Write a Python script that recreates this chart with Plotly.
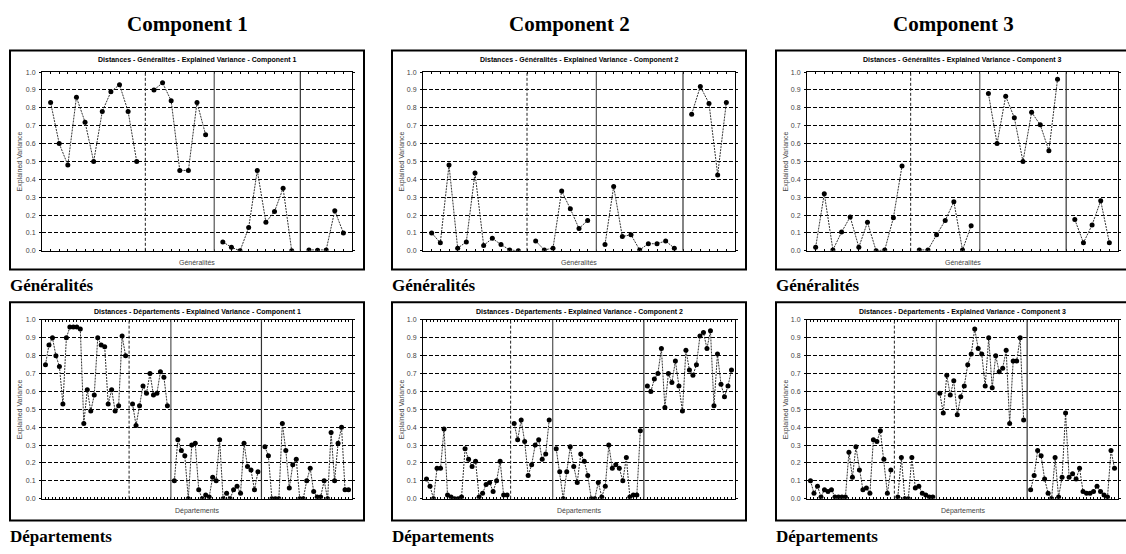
import plotly.graph_objects as go

W, H = 1126, 554

# ---- Explained variance per component, split into the four variable groups ----
gen_c1 = [
    [0.83, 0.60, 0.48, 0.86, 0.72, 0.50, 0.78, 0.89, 0.93, 0.78, 0.50],
    [0.90, 0.94, 0.84, 0.45, 0.45, 0.83, 0.65],
    [0.05, 0.02, 0.00, 0.13, 0.45, 0.16, 0.22, 0.35, 0.00],
    [0.005, 0.003, 0.005, 0.225, 0.10],
]
gen_c2 = [
    [0.10, 0.045, 0.48, 0.015, 0.05, 0.435, 0.03, 0.07, 0.035, 0.005, 0.00],
    [0.055, 0.005, 0.015, 0.335, 0.235, 0.125, 0.17],
    [0.035, 0.36, 0.08, 0.09, 0.005, 0.04, 0.04, 0.055, 0.015],
    [0.765, 0.92, 0.825, 0.425, 0.83],
]
gen_c3 = [
    [0.02, 0.32, 0.005, 0.105, 0.19, 0.02, 0.16, 0.00, 0.005, 0.185, 0.475],
    [0.005, 0.005, 0.09, 0.17, 0.275, 0.005, 0.14],
    [0.88, 0.60, 0.865, 0.745, 0.50, 0.775, 0.705, 0.56, 0.96],
    [0.175, 0.045, 0.145, 0.28, 0.045],
]
dep_c1 = [
    [0.75, 0.86, 0.90, 0.80, 0.74, 0.53, 0.90, 0.96, 0.96, 0.96, 0.95, 0.42,
     0.61, 0.49, 0.58, 0.90, 0.86, 0.85, 0.53, 0.61, 0.49, 0.52, 0.91, 0.80],
    [0.53, 0.41, 0.52, 0.63, 0.59, 0.70, 0.58, 0.59, 0.71, 0.68, 0.52],
    [0.10, 0.33, 0.27, 0.24, 0.00, 0.30, 0.31, 0.05, 0.00, 0.02, 0.01, 0.12, 0.10,
     0.33, 0.00, 0.03, 0.00, 0.05, 0.07, 0.03, 0.31, 0.18, 0.16, 0.05, 0.15],
    [0.29, 0.24, 0.00, 0.00, 0.00, 0.42, 0.27, 0.06, 0.19, 0.22, 0.00, 0.00, 0.10,
     0.17, 0.04, 0.01, 0.01, 0.10, 0.00, 0.37, 0.10, 0.31, 0.40, 0.05, 0.05],
]
dep_c2 = [
    [0.11, 0.07, 0.00, 0.17, 0.17, 0.39, 0.02, 0.01, 0.00, 0.00, 0.01, 0.28,
     0.22, 0.18, 0.21, 0.01, 0.03, 0.08, 0.09, 0.04, 0.10, 0.21, 0.02, 0.02],
    [0.42, 0.33, 0.44, 0.32, 0.13, 0.19, 0.30, 0.33, 0.22, 0.25, 0.44],
    [0.28, 0.15, 0.00, 0.15, 0.29, 0.18, 0.09, 0.25, 0.21, 0.13, 0.00, 0.00, 0.09,
     0.01, 0.07, 0.30, 0.17, 0.19, 0.17, 0.10, 0.23, 0.01, 0.02, 0.02, 0.38],
    [0.63, 0.60, 0.67, 0.70, 0.84, 0.51, 0.70, 0.65, 0.77, 0.63, 0.49, 0.83, 0.72,
     0.69, 0.75, 0.91, 0.93, 0.84, 0.94, 0.52, 0.81, 0.64, 0.57, 0.63, 0.72],
]
dep_c3 = [
    [0.10, 0.03, 0.07, 0.01, 0.05, 0.04, 0.05, 0.01, 0.01, 0.01, 0.01, 0.26,
     0.12, 0.29, 0.16, 0.05, 0.06, 0.03, 0.33, 0.32, 0.38, 0.22, 0.03, 0.16],
    [0.01, 0.23, 0.00, 0.00, 0.23, 0.06, 0.07, 0.03, 0.02, 0.01, 0.01],
    [0.59, 0.48, 0.69, 0.58, 0.66, 0.47, 0.57, 0.63, 0.75, 0.81, 0.95, 0.84, 0.81,
     0.63, 0.90, 0.62, 0.80, 0.71, 0.73, 0.83, 0.42, 0.77, 0.77, 0.90, 0.44],
    [0.05, 0.13, 0.27, 0.24, 0.11, 0.03, 0.00, 0.23, 0.01, 0.12, 0.48, 0.12, 0.14,
     0.11, 0.17, 0.04, 0.03, 0.03, 0.04, 0.07, 0.04, 0.02, 0.01, 0.27, 0.17],
]

components = ["Component 1", "Component 2", "Component 3"]
rows = ["Généralités", "Départements"]
y_ticks = [round(0.1 * i, 1) for i in range(11)]

panels = [
    (0, 0, gen_c1), (0, 1, gen_c2), (0, 2, gen_c3),
    (1, 0, dep_c1), (1, 1, dep_c2), (1, 2, dep_c3),
]

# pixel geometry of the grid
frame_x = [(10, 364), (392, 746), (776, 1130)]
frame_y = [(47, 269), (302, 523)]
plot_x = [(42, 352), (423, 735), (807, 1118)]
plot_y = [(69, 250), (320, 501)]


def px(x):
    return x / W


def py(y):
    return 1 - y / H


def group_positions(groups):
    """Consecutive positions for each group, one empty slot between groups."""
    xs, ys, seps = [], [], []
    pos = 1
    for gi, g in enumerate(groups):
        for v in g:
            xs.append(pos)
            ys.append(v)
            pos += 1
        if gi < len(groups) - 1:
            seps.append(pos)
            xs.append(pos)
            ys.append(None)
            pos += 1
    return xs, ys, seps, pos


fig = go.Figure()
shapes = []
annotations = []
sep_styles = [
    dict(color="#222", width=1, dash="3px,2px"),
    dict(color="#555", width=1.2, dash="solid"),
    dict(color="#333", width=1.2, dash="solid"),
]

for k, (r, c, groups) in enumerate(panels):
    idx = "" if k == 0 else str(k + 1)
    xs, ys, seps, end = group_positions(groups)
    fig.add_trace(go.Scatter(
        x=xs, y=ys, mode="lines+markers", connectgaps=False,
        line=dict(color="#333", width=1, dash="2px,1px"),
        marker=dict(color="black", size=5),
        xaxis="x" + idx, yaxis="y" + idx, showlegend=False,
        hoverinfo="skip",
    ))
    x0, x1 = plot_x[c]
    y0, y1 = plot_y[r]
    fig.layout["xaxis" + idx] = dict(
        domain=[px(x0), px(x1)], anchor="y" + idx, range=[0, end],
        showgrid=False, zeroline=False, showticklabels=False,
        ticks="inside", ticklen=2, tickwidth=1, tickcolor="black",
        tick0=0, dtick=1, showline=True, linecolor="black", linewidth=1,
        mirror="ticks", fixedrange=True,
    )
    fig.layout["yaxis" + idx] = dict(
        domain=[py(y1), py(y0)], anchor="x" + idx, range=[0, 1],
        tickvals=y_ticks, ticktext=[f"{t:.1f}" for t in y_ticks],
        tickfont=dict(family="Liberation Sans", size=7, color="#444"),
        ticks="outside", ticklen=2, tickcolor="black", ticklabelstandoff=2,
        showgrid=True, gridcolor="black", gridwidth=1, griddash="4px,2px",
        zeroline=False, showline=True, linecolor="black", linewidth=1,
        mirror="ticks", fixedrange=True,
    )
    for s, st in zip(seps, sep_styles):
        shapes.append(dict(
            type="line", xref="x" + idx, yref="y" + idx + " domain",
            x0=s, x1=s, y0=0, y1=1, line=st, layer="above",
        ))
    fx0, fx1 = frame_x[c]
    fy0, fy1 = frame_y[r]
    shapes.append(dict(
        type="rect", xref="paper", yref="paper",
        x0=px(fx0), x1=px(fx1), y0=py(fy1), y1=py(fy0),
        line=dict(color="black", width=2),
    ))
    # inner title
    annotations.append(dict(
        text=f"<b>Distances - {rows[r]} - Explained Variance - {components[c]}</b>",
        xref="paper", yref="paper", x=px((x0 + x1) / 2), y=py(fy0 + 10),
        showarrow=False, font=dict(family="Liberation Sans", size=7, color="black"),
        xanchor="center", yanchor="middle",
    ))
    # axis titles
    annotations.append(dict(
        text=rows[r], xref="paper", yref="paper",
        x=px((x0 + x1) / 2), y=py(y1 + 12), showarrow=False,
        font=dict(family="Liberation Sans", size=7, color="#444"),
        xanchor="center", yanchor="middle",
    ))
    annotations.append(dict(
        text="Explained Variance", xref="paper", yref="paper",
        x=px(fx0 + 10), y=py((y0 + y1) / 2), showarrow=False, textangle=-90,
        font=dict(family="Liberation Sans", size=7, color="#444"),
        xanchor="center", yanchor="middle",
    ))
    # row caption under each frame
    annotations.append(dict(
        text=f"<b>{rows[r]}</b>", xref="paper", yref="paper",
        x=px(fx0 - 2), y=py(fy1 + 16), showarrow=False,
        font=dict(family="Liberation Serif", size=17, color="black"),
        xanchor="left", yanchor="middle",
    ))

for c, name in enumerate(components):
    fx0, fx1 = frame_x[c]
    annotations.append(dict(
        text=f"<b>{name}</b>", xref="paper", yref="paper",
        x=px((fx0 + fx1) / 2), y=py(20), showarrow=False,
        font=dict(family="Liberation Serif", size=21, color="black"),
        xanchor="center", yanchor="middle",
    ))

fig.update_layout(
    width=W, height=H, margin=dict(l=0, r=0, t=0, b=0),
    paper_bgcolor="white", plot_bgcolor="white",
    shapes=shapes, annotations=annotations, showlegend=False,
)

fig.write_html("out.html", config={"displayModeBar": False})
